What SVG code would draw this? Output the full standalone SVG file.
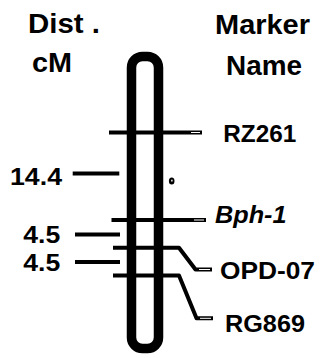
<svg xmlns="http://www.w3.org/2000/svg" width="320" height="358" viewBox="0 0 320 358">
  <style>
    text { font-family: "Liberation Sans", Arial, sans-serif; font-weight: bold; fill: #000; }
    .head { font-size: 27px; }
    .dist { font-size: 24px; }
    .mark { font-size: 23px; }
    .tick { stroke: #000; stroke-width: 4; fill: none; stroke-linecap: butt; stroke-linejoin: round; }
    .tip { stroke: #fff; stroke-width: 1; fill: none; }
  </style>
  <rect width="320" height="358" fill="#fff"/>

  <!-- column headings -->
  <g id="heading-dist">
    <text class="head" x="28" y="33" textLength="72" lengthAdjust="spacingAndGlyphs">Dist .</text>
    <text class="head" x="32" y="72" textLength="40" lengthAdjust="spacingAndGlyphs">cM</text>
  </g>
  <g id="heading-marker">
    <text class="head" x="215" y="34" textLength="95" lengthAdjust="spacingAndGlyphs">Marker</text>
    <text class="head" x="226" y="75" textLength="76" lengthAdjust="spacingAndGlyphs">Name</text>
  </g>

  <!-- chromosome body -->
  <g id="chromosome">
    <rect x="131.5" y="56.5" width="27" height="292" rx="11" ry="11" fill="none" stroke="#000" stroke-width="9.5"/>
    <ellipse cx="171.7" cy="181" rx="2.8" ry="3.6" fill="#000"/>
    <ellipse cx="171.9" cy="180.6" rx="0.7" ry="1.2" fill="#fff"/>
  </g>

  <!-- marker ticks and distance bars -->
  <g id="connectors">
    <line class="tick" x1="109" y1="132.5" x2="202" y2="132.5"/>
    <line class="tip" x1="191" y1="132.5" x2="200" y2="132.5"/>
    <line class="tick" x1="111.5" y1="220" x2="206" y2="220"/>
    <line class="tip" x1="194" y1="220" x2="204" y2="220"/>
    <polyline class="tick" points="113,247.7 179,247.7 195.5,269.5 212,269.5"/>
    <line class="tip" x1="199" y1="269.5" x2="210" y2="269.5"/>
    <polyline class="tick" points="113,275.5 179,275.5 196.5,318.3 213,318.3"/>
    <line class="tip" x1="200" y1="318.3" x2="211" y2="318.3"/>
    <line class="tick" x1="72.7" y1="173.5" x2="119.3" y2="173.5"/>
    <line class="tick" x1="75" y1="234.5" x2="120" y2="234.5"/>
    <line class="tick" x1="75" y1="262" x2="120" y2="262"/>
  </g>

  <!-- distance labels -->
  <g id="dist-14-4"><text class="dist" x="10" y="185" textLength="52" lengthAdjust="spacingAndGlyphs">14.4</text></g>
  <g id="dist-4-5-a"><text class="dist" x="23.3" y="243" textLength="37" lengthAdjust="spacingAndGlyphs">4.5</text></g>
  <g id="dist-4-5-b"><text class="dist" x="23.3" y="271" textLength="37" lengthAdjust="spacingAndGlyphs">4.5</text></g>

  <!-- marker labels -->
  <g id="marker-RZ261"><text class="mark" x="223.3" y="141.7" textLength="73" lengthAdjust="spacingAndGlyphs">RZ261</text></g>
  <g id="marker-Bph-1"><text class="mark" x="215" y="223.3" font-style="italic" textLength="71.5" lengthAdjust="spacingAndGlyphs">Bph-1</text></g>
  <g id="marker-OPD-07"><text class="mark" x="220" y="279" textLength="95" lengthAdjust="spacingAndGlyphs">OPD-07</text></g>
  <g id="marker-RG869"><text class="mark" x="225" y="331.7" textLength="80" lengthAdjust="spacingAndGlyphs">RG869</text></g>
</svg>
